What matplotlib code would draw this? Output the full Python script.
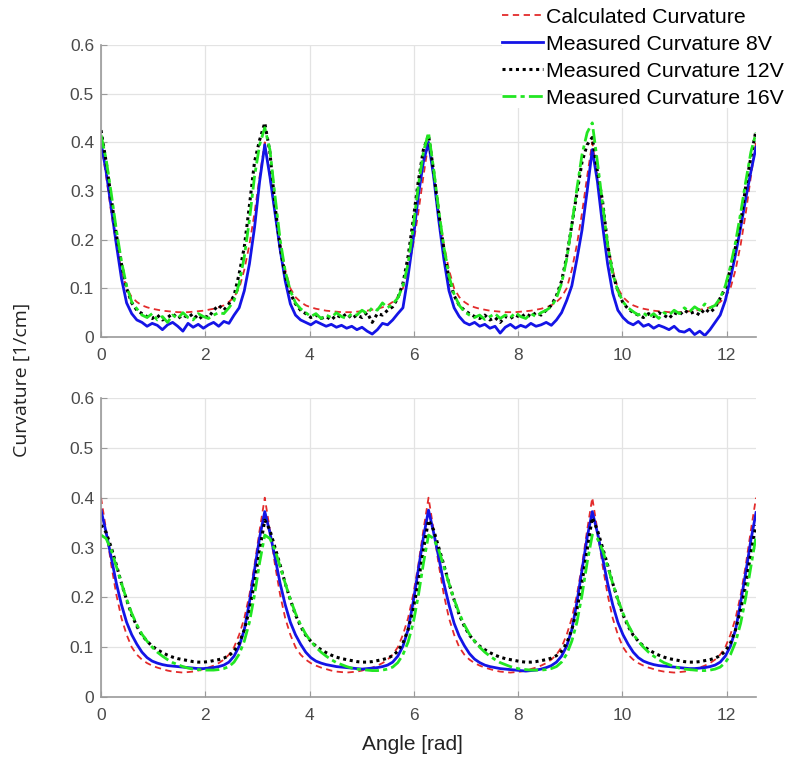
import numpy as np
import matplotlib as mpl
import matplotlib.pyplot as plt

mpl.use("Agg")

# sample grid: 129 angles over two full turns
angle = np.linspace(0, 4 * np.pi, 129)

# calculated curvature, top panel
calc_top = [
    0.400, 0.330, 0.255, 0.190, 0.138, 0.100, 0.082, 0.072, 0.065, 0.061, 0.058, 0.056, 0.054, 0.053, 0.052, 0.051,
    0.051, 0.051, 0.052, 0.053, 0.054, 0.056, 0.058, 0.061, 0.065, 0.072, 0.082, 0.100, 0.138, 0.190, 0.255, 0.330,
    0.400, 0.330, 0.255, 0.190, 0.138, 0.100, 0.082, 0.072, 0.065, 0.061, 0.058, 0.056, 0.054, 0.053, 0.052, 0.051,
    0.051, 0.051, 0.052, 0.053, 0.054, 0.056, 0.058, 0.061, 0.065, 0.072, 0.082, 0.100, 0.138, 0.190, 0.255, 0.330,
    0.400, 0.330, 0.255, 0.190, 0.138, 0.100, 0.082, 0.072, 0.065, 0.061, 0.058, 0.056, 0.054, 0.053, 0.052, 0.051,
    0.051, 0.051, 0.052, 0.053, 0.054, 0.056, 0.058, 0.061, 0.065, 0.072, 0.082, 0.100, 0.138, 0.190, 0.255, 0.330,
    0.400, 0.330, 0.255, 0.190, 0.138, 0.100, 0.082, 0.072, 0.065, 0.061, 0.058, 0.056, 0.054, 0.053, 0.052, 0.051,
    0.051, 0.051, 0.052, 0.053, 0.054, 0.056, 0.058, 0.061, 0.065, 0.072, 0.082, 0.100, 0.138, 0.190, 0.255, 0.330,
    0.400,
]

# calculated curvature, bottom panel
calc_bot = [
    0.400, 0.335, 0.265, 0.205, 0.158, 0.125, 0.100, 0.085, 0.075, 0.068, 0.063, 0.059, 0.056, 0.053, 0.051, 0.050,
    0.049, 0.050, 0.051, 0.053, 0.056, 0.059, 0.063, 0.068, 0.075, 0.085, 0.100, 0.125, 0.158, 0.205, 0.265, 0.335,
    0.400, 0.335, 0.265, 0.205, 0.158, 0.125, 0.100, 0.085, 0.075, 0.068, 0.063, 0.059, 0.056, 0.053, 0.051, 0.050,
    0.049, 0.050, 0.051, 0.053, 0.056, 0.059, 0.063, 0.068, 0.075, 0.085, 0.100, 0.125, 0.158, 0.205, 0.265, 0.335,
    0.400, 0.335, 0.265, 0.205, 0.158, 0.125, 0.100, 0.085, 0.075, 0.068, 0.063, 0.059, 0.056, 0.053, 0.051, 0.050,
    0.049, 0.050, 0.051, 0.053, 0.056, 0.059, 0.063, 0.068, 0.075, 0.085, 0.100, 0.125, 0.158, 0.205, 0.265, 0.335,
    0.400, 0.335, 0.265, 0.205, 0.158, 0.125, 0.100, 0.085, 0.075, 0.068, 0.063, 0.059, 0.056, 0.053, 0.051, 0.050,
    0.049, 0.050, 0.051, 0.053, 0.056, 0.059, 0.063, 0.068, 0.075, 0.085, 0.100, 0.125, 0.158, 0.205, 0.265, 0.335,
    0.400,
]

# top panel: raw measurements
top_8v = [
    0.400, 0.340, 0.265, 0.190, 0.120, 0.070, 0.048, 0.035, 0.030, 0.022, 0.028, 0.024, 0.015, 0.025, 0.030, 0.022,
    0.012, 0.028, 0.020, 0.026, 0.018, 0.025, 0.030, 0.022, 0.032, 0.028, 0.045, 0.060, 0.095, 0.150, 0.225, 0.320,
    0.395, 0.330, 0.255, 0.180, 0.115, 0.068, 0.045, 0.035, 0.030, 0.025, 0.032, 0.027, 0.022, 0.026, 0.020, 0.024,
    0.018, 0.022, 0.015, 0.020, 0.012, 0.006, 0.015, 0.028, 0.025, 0.035, 0.048, 0.060, 0.125, 0.200, 0.290, 0.360,
    0.400, 0.330, 0.240, 0.160, 0.095, 0.060, 0.042, 0.030, 0.025, 0.030, 0.022, 0.026, 0.018, 0.022, 0.008, 0.020,
    0.026, 0.018, 0.024, 0.020, 0.028, 0.022, 0.025, 0.030, 0.024, 0.035, 0.050, 0.075, 0.105, 0.160, 0.220, 0.300,
    0.385, 0.320, 0.230, 0.150, 0.090, 0.055, 0.040, 0.030, 0.025, 0.032, 0.022, 0.026, 0.018, 0.024, 0.020, 0.015,
    0.022, 0.012, 0.010, 0.016, 0.005, 0.012, 0.003, 0.015, 0.030, 0.045, 0.075, 0.120, 0.170, 0.225, 0.285, 0.340,
    0.390,
]
top_12v = [
    0.425, 0.360, 0.285, 0.210, 0.150, 0.100, 0.070, 0.055, 0.048, 0.042, 0.038, 0.045, 0.035, 0.040, 0.048, 0.038,
    0.045, 0.040, 0.048, 0.036, 0.044, 0.040, 0.055, 0.065, 0.055, 0.068, 0.085, 0.130, 0.185, 0.270, 0.360, 0.405,
    0.440, 0.380, 0.270, 0.185, 0.125, 0.090, 0.068, 0.055, 0.048, 0.040, 0.045, 0.038, 0.042, 0.035, 0.045, 0.040,
    0.048, 0.038, 0.045, 0.040, 0.050, 0.030, 0.048, 0.045, 0.055, 0.062, 0.080, 0.110, 0.165, 0.240, 0.320, 0.385,
    0.415, 0.340, 0.255, 0.180, 0.120, 0.085, 0.065, 0.055, 0.048, 0.042, 0.038, 0.045, 0.035, 0.040, 0.030, 0.042,
    0.038, 0.045, 0.040, 0.048, 0.042, 0.050, 0.045, 0.055, 0.065, 0.085, 0.115, 0.165, 0.230, 0.295, 0.360, 0.395,
    0.410, 0.340, 0.280, 0.190, 0.130, 0.095, 0.070, 0.058, 0.050, 0.045, 0.040, 0.048, 0.042, 0.050, 0.045, 0.038,
    0.050, 0.045, 0.055, 0.048, 0.052, 0.045, 0.058, 0.050, 0.060, 0.080, 0.100, 0.140, 0.185, 0.235, 0.310, 0.370,
    0.425,
]
top_16v = [
    0.415, 0.365, 0.295, 0.220, 0.155, 0.105, 0.072, 0.058, 0.045, 0.040, 0.048, 0.035, 0.042, 0.030, 0.045, 0.038,
    0.050, 0.040, 0.035, 0.048, 0.042, 0.038, 0.045, 0.050, 0.048, 0.060, 0.075, 0.110, 0.165, 0.240, 0.330, 0.395,
    0.430, 0.385, 0.290, 0.200, 0.135, 0.095, 0.070, 0.058, 0.050, 0.042, 0.048, 0.038, 0.045, 0.040, 0.050, 0.042,
    0.038, 0.048, 0.045, 0.055, 0.048, 0.060, 0.055, 0.070, 0.060, 0.068, 0.080, 0.105, 0.150, 0.225, 0.310, 0.380,
    0.420, 0.345, 0.260, 0.185, 0.125, 0.088, 0.065, 0.052, 0.045, 0.040, 0.045, 0.036, 0.042, 0.048, 0.038, 0.045,
    0.040, 0.050, 0.042, 0.038, 0.048, 0.042, 0.050, 0.055, 0.062, 0.080, 0.110, 0.160, 0.230, 0.305, 0.375, 0.420,
    0.440, 0.360, 0.275, 0.190, 0.130, 0.095, 0.072, 0.060, 0.052, 0.045, 0.050, 0.040, 0.048, 0.038, 0.050, 0.045,
    0.055, 0.048, 0.060, 0.052, 0.062, 0.055, 0.068, 0.060, 0.065, 0.080, 0.105, 0.145, 0.195, 0.255, 0.320, 0.380,
    0.420,
]

# bottom panel: filtered measurements
bot_8v = [
    0.375, 0.330, 0.280, 0.228, 0.185, 0.150, 0.125, 0.106, 0.090, 0.079, 0.072, 0.068, 0.065, 0.063, 0.062, 0.061,
    0.060, 0.059, 0.058, 0.057, 0.057, 0.058, 0.059, 0.061, 0.064, 0.070, 0.082, 0.102, 0.135, 0.190, 0.255, 0.320,
    0.372, 0.330, 0.280, 0.228, 0.185, 0.150, 0.125, 0.106, 0.090, 0.079, 0.072, 0.068, 0.065, 0.063, 0.061, 0.060,
    0.059, 0.058, 0.057, 0.056, 0.057, 0.058, 0.059, 0.061, 0.064, 0.070, 0.082, 0.102, 0.135, 0.190, 0.255, 0.320,
    0.375, 0.330, 0.280, 0.228, 0.185, 0.148, 0.122, 0.103, 0.087, 0.076, 0.069, 0.064, 0.061, 0.059, 0.057, 0.056,
    0.055, 0.054, 0.053, 0.052, 0.053, 0.054, 0.056, 0.059, 0.063, 0.070, 0.082, 0.102, 0.135, 0.190, 0.255, 0.320,
    0.372, 0.330, 0.280, 0.228, 0.185, 0.150, 0.125, 0.106, 0.090, 0.079, 0.072, 0.068, 0.065, 0.063, 0.062, 0.061,
    0.060, 0.059, 0.058, 0.057, 0.057, 0.058, 0.059, 0.061, 0.064, 0.070, 0.082, 0.102, 0.135, 0.190, 0.250, 0.315,
    0.370,
]
bot_12v = [
    0.345, 0.330, 0.300, 0.265, 0.228, 0.195, 0.165, 0.142, 0.124, 0.112, 0.102, 0.095, 0.089, 0.084, 0.080, 0.077,
    0.075, 0.073, 0.071, 0.070, 0.070, 0.071, 0.073, 0.075, 0.078, 0.083, 0.092, 0.108, 0.135, 0.175, 0.230, 0.295,
    0.355, 0.335, 0.300, 0.265, 0.228, 0.195, 0.165, 0.142, 0.124, 0.112, 0.102, 0.095, 0.089, 0.084, 0.080, 0.077,
    0.075, 0.073, 0.071, 0.070, 0.070, 0.071, 0.073, 0.075, 0.078, 0.083, 0.092, 0.108, 0.135, 0.175, 0.230, 0.295,
    0.355, 0.335, 0.300, 0.265, 0.228, 0.195, 0.165, 0.142, 0.124, 0.112, 0.102, 0.095, 0.089, 0.084, 0.080, 0.077,
    0.075, 0.073, 0.071, 0.070, 0.070, 0.071, 0.073, 0.075, 0.078, 0.083, 0.092, 0.108, 0.135, 0.175, 0.230, 0.295,
    0.360, 0.335, 0.300, 0.265, 0.228, 0.195, 0.165, 0.142, 0.124, 0.112, 0.102, 0.095, 0.089, 0.084, 0.080, 0.077,
    0.075, 0.073, 0.071, 0.070, 0.070, 0.071, 0.073, 0.075, 0.078, 0.083, 0.092, 0.108, 0.135, 0.175, 0.225, 0.290,
    0.345,
]
bot_16v = [
    0.325, 0.318, 0.295, 0.262, 0.228, 0.196, 0.168, 0.145, 0.126, 0.112, 0.100, 0.090, 0.082, 0.075, 0.069, 0.065,
    0.061, 0.058, 0.056, 0.055, 0.054, 0.054, 0.054, 0.055, 0.057, 0.061, 0.070, 0.086, 0.112, 0.150, 0.205, 0.270,
    0.325, 0.318, 0.295, 0.262, 0.228, 0.196, 0.168, 0.145, 0.126, 0.112, 0.100, 0.090, 0.082, 0.075, 0.069, 0.065,
    0.061, 0.058, 0.056, 0.055, 0.054, 0.053, 0.053, 0.054, 0.056, 0.060, 0.069, 0.085, 0.110, 0.148, 0.203, 0.268,
    0.325, 0.318, 0.295, 0.262, 0.228, 0.196, 0.168, 0.145, 0.126, 0.112, 0.100, 0.090, 0.082, 0.075, 0.069, 0.065,
    0.061, 0.058, 0.056, 0.055, 0.054, 0.054, 0.054, 0.055, 0.057, 0.061, 0.070, 0.086, 0.112, 0.150, 0.205, 0.270,
    0.325, 0.318, 0.295, 0.262, 0.228, 0.196, 0.168, 0.145, 0.126, 0.112, 0.100, 0.090, 0.082, 0.075, 0.069, 0.065,
    0.061, 0.058, 0.056, 0.055, 0.054, 0.053, 0.053, 0.054, 0.056, 0.060, 0.069, 0.085, 0.110, 0.148, 0.200, 0.262,
    0.322,
]

labels = [
    "Calculated Curvature",
    "Measured Curvature 8V",
    "Measured Curvature 12V",
    "Measured Curvature 16V",
]
x_ticks = [0, 2, 4, 6, 8, 10, 12]
y_ticks = [0, 0.1, 0.2, 0.3, 0.4, 0.5, 0.6]

TICK_FONT = ["Liberation Sans", "DejaVu Sans"]

styles = [
    dict(color="#e32b2b", linestyle=(0, (3.5, 2.5)), linewidth=1.3),
    dict(color="#1414e6", linestyle="-", linewidth=2.0),
    dict(color="black", linestyle=(0, (1, 1.2)), linewidth=2.2),
    dict(color="#22e622", linestyle=(0, (5, 1.5, 1.5, 1.5)), linewidth=2.0),
]

fig = plt.figure(figsize=(8.03, 7.6), dpi=100)
ax_top = fig.add_axes([0.1258, 0.5566, 0.8157, 0.3842])
ax_bot = fig.add_axes([0.1258, 0.0829, 0.8157, 0.3934])

panels = [
    (ax_top, [calc_top, top_8v, top_12v, top_16v]),
    (ax_bot, [calc_bot, bot_8v, bot_12v, bot_16v]),
]

handles = []
for ax, series in panels:
    lines = []
    for ys, st, lab in zip(series, styles, labels):
        (ln,) = ax.plot(angle, ys, label=lab, **st)
        lines.append(ln)
    if not handles:
        handles = lines
    ax.set_xlim(0, 4 * np.pi)
    ax.set_ylim(0, 0.6)
    ax.set_xticks(x_ticks)
    ax.set_yticks(y_ticks)
    ax.set_xticklabels([str(t) for t in x_ticks])
    ax.set_yticklabels(["0" if t == 0 else f"{t:.1f}" for t in y_ticks])
    ax.grid(True, color="#e3e3e3", linewidth=0.9)
    ax.set_axisbelow(True)
    for side in ["top", "right"]:
        ax.spines[side].set_visible(False)
    for side in ["left", "bottom"]:
        ax.spines[side].set_color("#9a9a9a")
        ax.spines[side].set_linewidth(1.2)
    ax.tick_params(direction="in", length=4, color="#9a9a9a", labelcolor="#4a4a4a",
                   labelsize=12.5)
    ax.tick_params(axis="x", pad=8)
    ax.tick_params(axis="y", pad=5)
    for t in ax.get_xticklabels() + ax.get_yticklabels():
        t.set_family(TICK_FONT)

fig.text(0.027, 0.5, "Curvature [1/cm]", rotation=90, ha="center", va="center",
         fontsize=14, family=["Open Sans", "DejaVu Sans"], color="#222222")
fig.text(0.513, 0.02, "Angle [rad]", ha="center", va="center",
         fontsize=15, family=TICK_FONT, color="#222222")

leg = fig.legend(handles, labels, loc="upper left", bbox_to_anchor=(0.612, 1.004),
                 frameon=True, fancybox=False, framealpha=1, borderpad=0.0,
                 labelspacing=0.38, handlelength=1.95, handletextpad=0.12,
                 prop={"family": ["Liberation Sans", "DejaVu Sans"], "size": 15.3})
leg.get_frame().set_edgecolor("none")
leg.get_frame().set_facecolor("white")

fig.savefig("out.png", dpi=100)
